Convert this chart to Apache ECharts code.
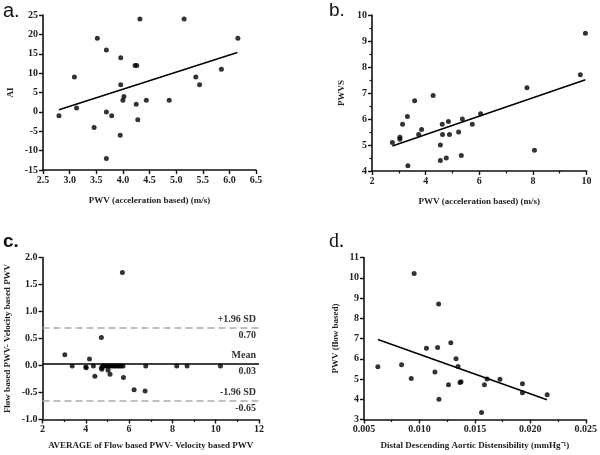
<!DOCTYPE html>
<html>
<head>
<meta charset="utf-8">
<script src="https://cdn.jsdelivr.net/npm/echarts@6/dist/echarts.min.js"></script>
<style>
html,body{margin:0;padding:0;background:#fff;}
#chart{width:600px;height:455px;}
</style>
</head>
<body>
<div id="chart"></div>
<script>
// Panel a: AI vs PWV (acceleration based)
var aX = [2.80,3.09,3.13,3.46,3.52,3.69,3.69,3.69,3.79,3.96,3.96,3.95,4.00,4.02,4.23,4.26,4.25,4.28,4.32,4.44,4.87,5.15,5.37,5.44,5.85,6.16];
var aY = [-1,9,1,-4,19,16,0,-12,-1,14,7,-6,3,4,12,12,2,-2,24,3,3,24,9,7,11,19];
var aFitX = [2.80,6.15];
var aFitY = [0.54,15.3];

// Panel b: PWVS vs PWV (acceleration based)
var bX = [2.76,3.04,3.04,3.14,3.32,3.34,3.59,3.74,3.85,4.28,4.55,4.55,4.62,4.63,4.77,4.85,4.89,5.23,5.33,5.37,5.74,6.05,7.78,8.06,9.77,9.96];
var bY = [5.1,5.3,5.22,5.8,6.1,4.2,6.7,5.4,5.6,6.9,5.0,4.4,5.8,5.4,4.5,5.9,5.4,5.5,4.6,6.0,5.8,6.2,7.2,4.8,7.7,9.3];
var bFitX = [2.76,9.96];
var bFitY = [4.96,7.51];

// Panel c: Bland-Altman
var cX = [3.03,3.37,4.0,4.02,4.17,4.35,4.42,4.72,4.72,4.74,4.78,4.85,4.92,5.0,5.03,5.08,5.12,5.16,5.24,5.32,5.4,5.48,5.56,5.64,5.69,5.72,5.74,6.23,6.74,6.77,8.2,8.68,10.22];
var cY = [0.20,-0.01,-0.03,-0.04,0.12,-0.01,-0.20,0.52,-0.04,-0.07,-0.01,-0.01,-0.01,-0.01,-0.09,-0.01,-0.16,-0.01,-0.01,-0.01,-0.01,-0.01,-0.01,-0.01,1.72,-0.01,-0.22,-0.45,-0.47,-0.01,-0.01,-0.01,-0.01];
var cMean = 0.03;
var cUpper = 0.70;
var cLower = -0.65;
var cLineLabels = ['+1.96 SD','Mean','-1.96 SD'];

// Panel d: PWV (flow based) vs distensibility
var dX = [0.00625,0.00839,0.00926,0.00952,0.01063,0.0114,0.01164,0.01173,0.01176,0.01262,0.01283,0.0133,0.01348,0.01366,0.01375,0.0156,0.01586,0.0161,0.01726,0.01929,0.01929,0.02152];
var dY = [5.60,5.70,5.02,10.21,6.52,5.35,6.56,8.70,4.0,4.71,6.79,6.0,5.62,4.83,4.86,3.35,4.71,5.0,4.99,4.76,4.32,4.22];
var dFitX = [0.00625,0.0215];
var dFitY = [6.95,3.97];

function pairs(xs, ys){ return xs.map(function(x,i){return [x, ys[i]];}); }

var FONT = '"Liberation Serif","Times New Roman",serif';
var labelStyle = {color:'#222', fontFamily:FONT, fontWeight:'bold', fontSize:10, margin:5};
var nameStyle = {color:'#222', fontFamily:FONT, fontWeight:'bold', fontSize:9};

function xAxis(gi, min, max, interval, name, gap, dec, minor){
  return {
    type:'value', gridIndex:gi, min:min, max:max, interval:interval,
    name:name, nameLocation:'middle', nameGap:gap, nameTextStyle:nameStyle,
    axisLine:{show:true, onZero:false, lineStyle:{color:'#111', width:1.6}},
    axisTick:{show:true, inside:false, length:4, lineStyle:{color:'#111', width:1.4}},
    minorTick:{show:!!minor, splitNumber:2, length:2.5, lineStyle:{color:'#111', width:1.2}},
    splitLine:{show:false},
    axisLabel:Object.assign({formatter:function(v){return dec===null?String(v):v.toFixed(dec);}}, labelStyle)
  };
}
function yAxis(gi, min, max, interval, name, gap, dec, minor){
  var a = xAxis(gi, min, max, interval, name, gap, dec, minor);
  a.nameRotate = 90;
  return a;
}

function scatter(xi, data){
  return {type:'scatter', xAxisIndex:xi, yAxisIndex:xi, data:data, symbolSize:5,
    itemStyle:{color:'#000'}, silent:true, z:3};
}
function fit(xi, data){
  return {type:'line', xAxisIndex:xi, yAxisIndex:xi, data:data, symbol:'none',
    lineStyle:{color:'#000', width:1.6}, silent:true, z:2};
}

var mlLabel = {color:'#333', fontFamily:FONT, fontWeight:'bold', fontSize:10, distance:3};
function mlPair(y, top, bottom, style){
  return [
    {yAxis:y, lineStyle:style, label:Object.assign({show:true, position:'insideEndTop', formatter:top}, mlLabel)},
    {yAxis:y, lineStyle:{color:'rgba(0,0,0,0)', width:0.1, type:'solid'}, label:Object.assign({show:true, position:'insideEndBottom', formatter:bottom}, mlLabel)}
  ];
}
var dashed = {color:'#aaa', type:[7,4], width:1.6};
var solid = {color:'#000', type:'solid', width:1.6};

var option = {
  backgroundColor:'#fff',
  animation:false,
  grid:[
    {left:43, top:15, width:213, height:155},
    {left:372, top:15, width:214.5, height:156},
    {left:42.5, top:257.5, width:216.5, height:162},
    {left:364, top:257.5, width:224, height:162}
  ],
  xAxis:[
    xAxis(0, 2.5, 6.5, 0.5, 'PWV (acceleration based) (m/s)', 26, 1, false),
    xAxis(1, 2, 10, 2, 'PWV (acceleration based) (m/s)', 26, null, true),
    xAxis(2, 2, 12, 2, 'AVERAGE of Flow based PWV- Velocity based PWV', 21.5, null, true),
    xAxis(3, 0.005, 0.025, 0.005, 'Distal Descending Aortic Distensibility (mmHg\u207B\u00B9)', 21.5, 3, true)
  ],
  yAxis:[
    yAxis(0, -15, 25, 5, 'AI', 28, null, false),
    yAxis(1, 4, 10, 1, 'PWVS', 26, null, true),
    yAxis(2, -1, 2, 0.5, 'Flow based PWV- Velocity based PWV', 30, 1, false),
    yAxis(3, 3, 11, 1, 'PWV (flow based)', 24, null, false)
  ],
  series:[
    scatter(0, pairs(aX,aY)), fit(0, pairs(aFitX,aFitY)),
    scatter(1, pairs(bX,bY)), fit(1, pairs(bFitX,bFitY)),
    Object.assign(scatter(2, pairs(cX,cY)), {
      markLine:{symbol:'none', silent:true, z:1,
        data:[].concat(
          mlPair(cUpper, cLineLabels[0], cUpper.toFixed(2), dashed),
          mlPair(cMean, cLineLabels[1], cMean.toFixed(2), solid),
          mlPair(cLower, cLineLabels[2], cLower.toFixed(2), dashed)
        )}
    }),
    scatter(3, pairs(dX,dY)), fit(3, pairs(dFitX,dFitY))
  ],
  graphic:[
    {type:'text', left:3, top:1, style:{text:'a.', font:'20px "Liberation Sans", Arial, sans-serif', fill:'#111'}},
    {type:'text', left:329, top:1, style:{text:'b.', font:'19px "Liberation Sans", Arial, sans-serif', fill:'#111'}},
    {type:'text', left:3, top:232, style:{text:'c.', font:'bold 19px "Liberation Sans", Arial, sans-serif', fill:'#111'}},
    {type:'text', left:329, top:232, style:{text:'d.', font:'20px "Liberation Serif", "Times New Roman", serif', fill:'#111'}}
  ]
};

var chart = echarts.init(document.getElementById('chart'), null, {renderer:'canvas'});
chart.setOption(option);
</script>
</body>
</html>
